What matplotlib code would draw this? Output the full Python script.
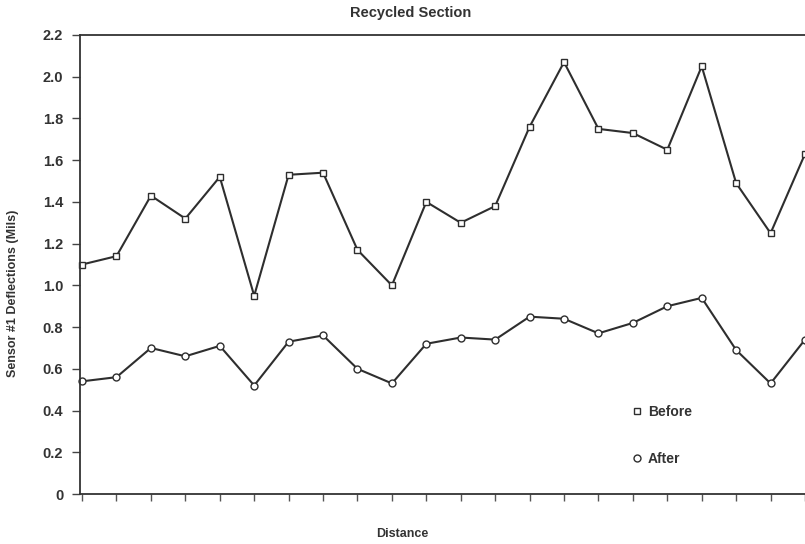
import numpy as np
import matplotlib.pyplot as plt
from matplotlib.lines import Line2D

plt.rcParams['font.family'] = ['Liberation Sans', 'DejaVu Sans']

# Deflection readings along the section
before = [1.10, 1.14, 1.43, 1.32, 1.52, 0.95, 1.53, 1.54, 1.17, 1.00, 1.40,
          1.30, 1.38, 1.76, 2.07, 1.75, 1.73, 1.65, 2.05, 1.49, 1.25, 1.63]
after = [0.54, 0.56, 0.70, 0.66, 0.71, 0.52, 0.73, 0.76, 0.60, 0.53, 0.72,
         0.75, 0.74, 0.85, 0.84, 0.77, 0.82, 0.90, 0.94, 0.69, 0.53, 0.74]
distance = np.arange(len(before))
yticks = [0, 0.2, 0.4, 0.6, 0.8, 1.0, 1.2, 1.4, 1.6, 1.8, 2.0, 2.2]
ylabels = ['0', '0.2', '0.4', '0.6', '0.8', '1.0', '1.2', '1.4', '1.6', '1.8', '2.0', '2.2']

W, H = 805, 544
fig = plt.figure(figsize=(W / 100, H / 100), dpi=100)
ax = fig.add_axes([80 / W, 1 - 494 / H, 1 - 80 / W, (494 - 35) / H])

lc = '#2e2e2e'
tc = '#333333'
ax.plot(distance, before, color=lc, lw=1.5, marker='s', ms=5,
        mfc='white', mec=lc, mew=1.0, clip_on=False)
ax.plot(distance, after, color=lc, lw=1.5, marker='o', ms=5,
        mfc='white', mec=lc, mew=1.0, clip_on=False)

ax.set_xlim(-0.06, 21)
ax.set_ylim(0, 2.2)
ax.set_yticks(yticks)
ax.set_yticklabels(ylabels, fontsize=10.5, fontweight='bold', color=tc)
ax.set_xticks(distance)
ax.set_xticklabels([])
ax.tick_params(axis='y', length=6, width=1, color='#444444', pad=6)
ax.tick_params(axis='x', length=5, width=1, color='#555555')

for s in ['left', 'bottom', 'top']:
    ax.spines[s].set_color(tc)
    ax.spines[s].set_linewidth(1.3)
ax.spines['right'].set_visible(False)

# the original page is cut on the right, so labels sit left of the axes centre
fig.text(411 / W, 1 - 13 / H, 'Recycled Section', fontsize=10.5, fontweight='bold',
         color=tc, ha='center', va='center')
fig.text(402 / W, 1 - 534 / H, 'Distance', fontsize=9, fontweight='bold',
         color=tc, ha='center', va='center')
fig.text(13 / W, 1 - 293 / H, 'Sensor #1 Deflections (Mils)', fontsize=9,
         fontweight='bold', color=tc, ha='center', va='center', rotation=90)

handles = [Line2D([], [], ls='none', marker='s', ms=5, mfc='white', mec=lc),
           Line2D([], [], ls='none', marker='o', ms=5, mfc='white', mec=lc)]
leg = ax.legend(handles, ['Before', 'After'], loc='upper left',
                bbox_to_anchor=(0.745, 0.222), frameon=False, handlelength=0.6,
                handletextpad=0.5, labelspacing=2.4,
                prop={'weight': 'bold', 'size': 10})
for t in leg.get_texts():
    t.set_color(tc)

fig.savefig('out.png', dpi=100)
